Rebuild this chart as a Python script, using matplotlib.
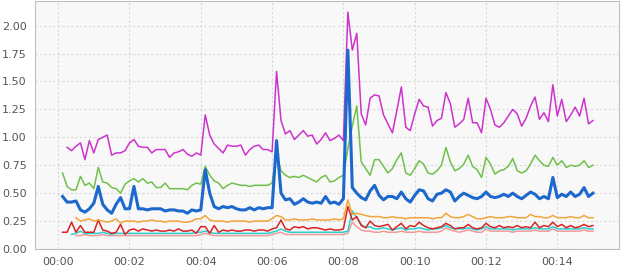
import numpy as np
import matplotlib
matplotlib.use("Agg")
import matplotlib.pyplot as plt
from matplotlib.ticker import FuncFormatter, MultipleLocator

nan = np.nan

# one sample every 7.5 s, x axis in minutes
minutes = np.arange(121) / 8

magenta = [nan, nan,
           0.91, 0.88, 0.92, 0.95, 0.80, 0.97, 0.86, 0.98, 1.00, 1.02, 0.84, 0.86, 0.86, 0.88, 0.95,
           0.98, 0.92, 0.91, 0.91, 0.86, 0.89, 0.89, 0.89, 0.82, 0.86, 0.87, 0.89, 0.85, 0.83, 0.86, 0.84,
           1.20, 1.02, 0.94, 0.90, 0.86, 0.93, 0.92, 0.92, 0.93, 0.84, 0.89, 0.92, 0.93, 0.89, 0.89, 0.87,
           1.59, 1.15, 1.03, 1.06, 0.98, 1.02, 1.06, 1.01, 1.02, 0.94, 0.98, 1.04, 0.97, 0.99, 1.02, 0.97,
           2.12, 1.78, 1.93, 1.21, 1.11, 1.35, 1.38, 1.37, 1.20, 1.12, 1.04, 1.24, 1.45, 1.09, 1.06, 1.21,
           1.34, 1.28, 1.27, 1.10, 1.15, 1.17, 1.40, 1.30, 1.09, 1.12, 1.16, 1.35, 1.13, 1.13, 1.04, 1.35,
           1.25, 1.11, 1.09, 1.13, 1.19, 1.25, 1.21, 1.10, 1.17, 1.28, 1.36, 1.16, 1.22, 1.14, 1.47, 1.19,
           1.34, 1.14, 1.20, 1.27, 1.19, 1.35, 1.12, 1.15]

green = [nan,
         0.68, 0.56, 0.53, 0.53, 0.65, 0.57, 0.59, 0.54, 0.73, 0.60, 0.59, 0.55, 0.54, 0.50, 0.58, 0.61,
         0.63, 0.60, 0.63, 0.59, 0.60, 0.55, 0.55, 0.59, 0.54, 0.54, 0.54, 0.54, 0.53, 0.57, 0.59, 0.58,
         0.74, 0.66, 0.61, 0.59, 0.54, 0.57, 0.59, 0.58, 0.57, 0.57, 0.56, 0.57, 0.57, 0.57, 0.57, 0.59,
         0.85, 0.70, 0.66, 0.64, 0.65, 0.64, 0.66, 0.64, 0.62, 0.60, 0.64, 0.66, 0.60, 0.61, 0.64, 0.66,
         0.90, 1.10, 1.28, 0.78, 0.72, 0.66, 0.80, 0.80, 0.74, 0.68, 0.72, 0.80, 0.86, 0.68, 0.66, 0.72,
         0.79, 0.76, 0.68, 0.67, 0.70, 0.75, 0.91, 0.78, 0.70, 0.72, 0.76, 0.84, 0.74, 0.71, 0.64, 0.82,
         0.76, 0.67, 0.70, 0.71, 0.74, 0.81, 0.70, 0.68, 0.70, 0.76, 0.84, 0.79, 0.75, 0.74, 0.82, 0.75,
         0.79, 0.73, 0.75, 0.74, 0.75, 0.79, 0.73, 0.75]

blue = [nan,
        0.47, 0.42, 0.42, 0.43, 0.35, 0.33, 0.36, 0.41, 0.56, 0.40, 0.35, 0.32, 0.40, 0.46, 0.36, 0.36,
        0.56, 0.36, 0.36, 0.35, 0.36, 0.36, 0.36, 0.34, 0.35, 0.35, 0.34, 0.34, 0.32, 0.35, 0.34, 0.35,
        0.71, 0.50, 0.38, 0.36, 0.38, 0.37, 0.38, 0.36, 0.35, 0.35, 0.37, 0.35, 0.37, 0.36, 0.37, 0.37,
        0.97, 0.50, 0.44, 0.45, 0.40, 0.42, 0.45, 0.42, 0.41, 0.42, 0.41, 0.47, 0.41, 0.42, 0.40, 0.45,
        1.78, 0.55, 0.50, 0.46, 0.44, 0.52, 0.57, 0.48, 0.44, 0.47, 0.47, 0.45, 0.51, 0.45, 0.42, 0.48,
        0.53, 0.52, 0.45, 0.43, 0.49, 0.50, 0.53, 0.51, 0.43, 0.47, 0.50, 0.48, 0.46, 0.45, 0.47, 0.51,
        0.47, 0.46, 0.47, 0.49, 0.47, 0.50, 0.47, 0.45, 0.48, 0.51, 0.49, 0.45, 0.47, 0.45, 0.64, 0.46,
        0.49, 0.47, 0.51, 0.47, 0.49, 0.55, 0.47, 0.50]

orange = [nan, nan, nan, nan,
          0.28, 0.25, 0.26, 0.27, 0.25, 0.26, 0.25, 0.24, 0.25, 0.27, 0.23, 0.25, 0.25,
          0.25, 0.24, 0.25, 0.25, 0.26, 0.25, 0.25, 0.24, 0.25, 0.25, 0.25, 0.24, 0.24, 0.25, 0.27, 0.27,
          0.30, 0.26, 0.25, 0.25, 0.25, 0.24, 0.25, 0.25, 0.25, 0.25, 0.24, 0.25, 0.25, 0.25, 0.25, 0.27,
          0.30, 0.29, 0.26, 0.26, 0.27, 0.26, 0.26, 0.26, 0.27, 0.26, 0.26, 0.26, 0.26, 0.27, 0.26, 0.27,
          0.44, 0.31, 0.32, 0.31, 0.30, 0.29, 0.29, 0.29, 0.28, 0.28, 0.29, 0.28, 0.28, 0.27, 0.28, 0.28,
          0.28, 0.28, 0.28, 0.27, 0.28, 0.28, 0.32, 0.29, 0.28, 0.28, 0.29, 0.31, 0.29, 0.27, 0.27, 0.28,
          0.29, 0.28, 0.28, 0.28, 0.29, 0.29, 0.28, 0.28, 0.28, 0.31, 0.29, 0.29, 0.28, 0.28, 0.30, 0.28,
          0.28, 0.28, 0.29, 0.28, 0.28, 0.30, 0.28, 0.28]

red = [nan,
       0.15, 0.15, 0.24, 0.15, 0.21, 0.15, 0.15, 0.15, 0.26, 0.17, 0.16, 0.14, 0.15, 0.22, 0.13, 0.17,
       0.18, 0.16, 0.18, 0.17, 0.16, 0.17, 0.16, 0.16, 0.17, 0.16, 0.18, 0.16, 0.16, 0.17, 0.14, 0.20,
       0.20, 0.14, 0.21, 0.15, 0.17, 0.16, 0.17, 0.16, 0.16, 0.17, 0.17, 0.16, 0.17, 0.17, 0.16, 0.18,
       0.19, 0.26, 0.18, 0.17, 0.20, 0.19, 0.20, 0.18, 0.19, 0.19, 0.18, 0.17, 0.18, 0.17, 0.17, 0.18,
       0.38, 0.26, 0.29, 0.21, 0.19, 0.25, 0.21, 0.20, 0.21, 0.22, 0.17, 0.20, 0.23, 0.18, 0.21, 0.20,
       0.24, 0.21, 0.19, 0.18, 0.19, 0.20, 0.23, 0.21, 0.18, 0.19, 0.19, 0.22, 0.19, 0.18, 0.19, 0.23,
       0.20, 0.19, 0.21, 0.19, 0.20, 0.19, 0.21, 0.19, 0.20, 0.19, 0.24, 0.19, 0.21, 0.20, 0.24, 0.20,
       0.22, 0.19, 0.21, 0.19, 0.20, 0.22, 0.20, 0.21]

cyan = [nan, nan, nan,
        0.13, 0.14, 0.16, 0.14, 0.14, 0.14, 0.14, 0.15, 0.14, 0.13, 0.14, 0.14, 0.14, 0.14,
        0.14, 0.14, 0.14, 0.14, 0.14, 0.14, 0.14, 0.14, 0.14, 0.14, 0.14, 0.14, 0.14, 0.14, 0.15, 0.15,
        0.16, 0.15, 0.14, 0.14, 0.14, 0.14, 0.14, 0.14, 0.14, 0.14, 0.14, 0.14, 0.14, 0.14, 0.14, 0.15,
        0.16, 0.18, 0.16, 0.15, 0.15, 0.15, 0.15, 0.15, 0.15, 0.15, 0.15, 0.15, 0.15, 0.15, 0.15, 0.15,
        0.16, 0.34, 0.28, 0.22, 0.19, 0.20, 0.18, 0.18, 0.19, 0.18, 0.17, 0.18, 0.19, 0.17, 0.18, 0.18,
        0.19, 0.18, 0.17, 0.18, 0.18, 0.19, 0.21, 0.19, 0.18, 0.18, 0.18, 0.19, 0.18, 0.17, 0.18, 0.20,
        0.18, 0.18, 0.18, 0.18, 0.18, 0.17, 0.18, 0.18, 0.18, 0.18, 0.19, 0.18, 0.18, 0.18, 0.20, 0.18,
        0.18, 0.18, 0.18, 0.18, 0.18, 0.19, 0.18, 0.18]

pink = [nan, nan, nan, nan,
        0.12, 0.12, 0.13, 0.12, 0.12, 0.12, 0.13, 0.12, 0.12, 0.12, 0.12, 0.12, 0.12,
        0.12, 0.12, 0.12, 0.12, 0.12, 0.12, 0.12, 0.12, 0.12, 0.12, 0.12, 0.12, 0.12, 0.12, 0.12, 0.13,
        0.14, 0.13, 0.12, 0.12, 0.12, 0.12, 0.12, 0.12, 0.12, 0.12, 0.12, 0.12, 0.12, 0.12, 0.12, 0.13,
        0.14, 0.15, 0.13, 0.13, 0.13, 0.13, 0.13, 0.13, 0.13, 0.13, 0.13, 0.13, 0.13, 0.13, 0.13, 0.13,
        0.14, 0.24, 0.20, 0.17, 0.16, 0.16, 0.15, 0.15, 0.16, 0.15, 0.15, 0.15, 0.16, 0.15, 0.15, 0.15,
        0.16, 0.15, 0.15, 0.15, 0.15, 0.16, 0.19, 0.17, 0.16, 0.15, 0.16, 0.17, 0.16, 0.15, 0.15, 0.18,
        0.16, 0.16, 0.16, 0.16, 0.16, 0.15, 0.16, 0.16, 0.16, 0.16, 0.17, 0.16, 0.16, 0.16, 0.18, 0.16,
        0.16, 0.16, 0.16, 0.16, 0.16, 0.17, 0.16, 0.16]

fig = plt.figure(figsize=(6.28, 2.71), dpi=100)
ax = fig.add_axes([35 / 628, 22 / 271, 584 / 628, 248 / 271])
ax.set_facecolor("#f8f8f8")

ax.plot(minutes, pink, color="#f29a9a", lw=1.1)
ax.plot(minutes, cyan, color="#2ccfd0", lw=1.1)
ax.plot(minutes, red, color="#d92323", lw=1.1)
ax.plot(minutes, orange, color="#f2a53a", lw=1.1)
ax.plot(minutes, magenta, color="#cc33cc", lw=1.1)
ax.plot(minutes, green, color="#6fc04c", lw=1.1)
ax.plot(minutes, blue, color="#1c68cc", lw=2.2)

ax.set_xlim(-0.65, 15.73)
ax.set_ylim(0, 2.22)
ax.xaxis.set_major_locator(MultipleLocator(2))
ax.yaxis.set_major_locator(MultipleLocator(0.25))
ax.xaxis.set_major_formatter(FuncFormatter(lambda m, pos: "00:%02d" % int(round(m))))
ax.yaxis.set_major_formatter(FuncFormatter(lambda v, pos: "%.2f" % v))

ax.grid(True, color="#d8d8d8", linestyle=(0, (2, 2)), linewidth=0.8)
ax.set_axisbelow(True)
for s in ax.spines.values():
    s.set_color("#c0c0c0")
    s.set_linewidth(0.8)
ax.tick_params(length=0, labelsize=8, colors="#555555", pad=6)

fig.savefig("out.png", dpi=100)
